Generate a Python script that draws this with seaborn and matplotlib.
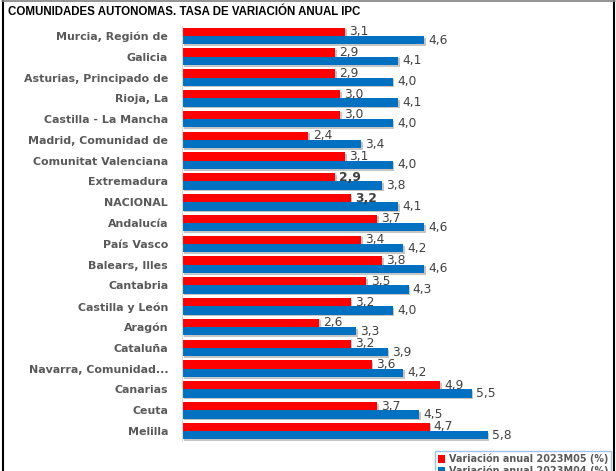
import pandas as pd
import matplotlib.pyplot as plt
import matplotlib.patheffects as pe
from matplotlib.lines import Line2D
import seaborn as sns

# datos del gráfico
regiones = [
    'Murcia, Región de', 'Galicia', 'Asturias, Principado de', 'Rioja, La',
    'Castilla - La Mancha', 'Madrid, Comunidad de', 'Comunitat Valenciana',
    'Extremadura', 'NACIONAL', 'Andalucía', 'País Vasco', 'Balears, Illes',
    'Cantabria', 'Castilla y León', 'Aragón', 'Cataluña', 'Navarra, Comunidad...',
    'Canarias', 'Ceuta', 'Melilla',
]
var_m05 = [3.1, 2.9, 2.9, 3.0, 3.0, 2.4, 3.1, 2.9, 3.2, 3.7,
           3.4, 3.8, 3.5, 3.2, 2.6, 3.2, 3.6, 4.9, 3.7, 4.7]
var_m04 = [4.6, 4.1, 4.0, 4.1, 4.0, 3.4, 4.0, 3.8, 4.1, 4.6,
           4.2, 4.6, 4.3, 4.0, 3.3, 3.9, 4.2, 5.5, 4.5, 5.8]
series = ['Variación anual 2023M05 (%)', 'Variación anual 2023M04 (%)']
colores = ['#FF0000', '#0070C0']
negrita = ['Extremadura', 'NACIONAL']  # etiquetas rojas en negrita

df = pd.DataFrame({
    'region': regiones * 2,
    'valor': var_m05 + var_m04,
    'serie': [series[0]] * len(regiones) + [series[1]] * len(regiones),
})

sns.set_style('white')
plt.rcParams['font.family'] = ['DejaVu Sans']

fig = plt.figure(figsize=(6.16, 4.71), dpi=100)
ax = fig.add_axes([0.2955, 0.0628, 0.556, 0.883])

sns.barplot(data=df, y='region', x='valor', hue='serie', order=regiones,
            hue_order=series, palette=colores, orient='h', width=0.8,
            saturation=1, linewidth=0, ax=ax)

sombra = [pe.SimplePatchShadow(offset=(1.2, -1.2), shadow_rgbFace='#8c8c8c', alpha=0.5), pe.Normal()]
for cont, vals in zip(ax.containers, [var_m05, var_m04]):
    for b in cont:
        b.set_path_effects(sombra)
    etiquetas = [f'{v:.1f}'.replace('.', ',') for v in vals]
    textos = ax.bar_label(cont, labels=etiquetas, padding=3, fontsize=8.8, color='#404040')
    if cont is ax.containers[0]:
        for t, r in zip(textos, regiones):
            if r in negrita:
                t.set_fontweight('bold')

ax.set_xlim(0, 6.5)
ax.set_xlabel('')
ax.set_ylabel('')
ax.set_xticks([])
ax.tick_params(axis='y', length=0, pad=10)
for lbl in ax.get_yticklabels():
    lbl.set_fontweight('bold')
    lbl.set_fontsize(7.9)
    lbl.set_color('#595959')
for s in ['top', 'right', 'bottom']:
    ax.spines[s].set_visible(False)
ax.spines['left'].set_color('#d9d9d9')

ax.legend_.remove()
leg = ax.legend(loc='upper left', bbox_to_anchor=(0.699, 0.052), bbox_transform=fig.transFigure,
                fontsize=6.9, handlelength=0.8, handleheight=0.8, handletextpad=0.35,
                labelspacing=0.1, borderpad=0.25, fancybox=False, edgecolor='#9dc3e6',
                framealpha=1)
for t in leg.get_texts():
    t.set_fontweight('bold')
    t.set_color('#595959')

fig.text(0.013, 0.974, 'COMUNIDADES AUTONOMAS. TASA DE VARIACIÓN ANUAL IPC',
         fontsize=8.3, fontweight='bold', family=['Liberation Sans', 'DejaVu Sans'],
         va='center', ha='left', color='black')

# marco del gráfico
fig.add_artist(Line2D([0.005, 0.005], [0, 0.998], transform=fig.transFigure, color='black', lw=1.5))
fig.add_artist(Line2D([0.997, 0.997], [0, 0.998], transform=fig.transFigure, color='black', lw=1.5))
fig.add_artist(Line2D([0.004, 0.998], [0.997, 0.997], transform=fig.transFigure, color='#808080', lw=1.2))

fig.savefig('out.png', dpi=100)
